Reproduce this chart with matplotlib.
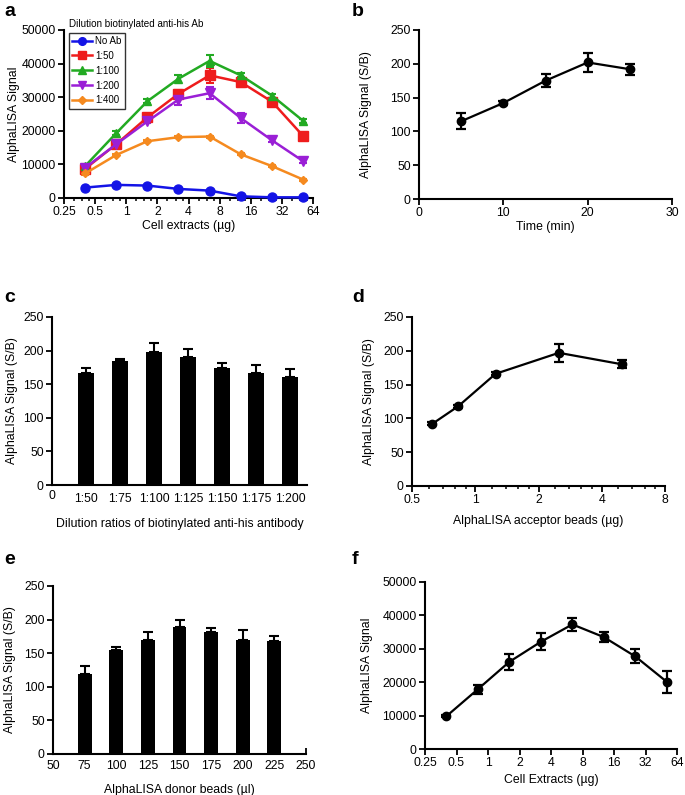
import matplotlib

matplotlib.use("Agg")
import matplotlib.pyplot as plt
from matplotlib.lines import Line2D
import numpy as np

plt.rcParams["font.family"] = ["Liberation Sans", "DejaVu Sans"]
plt.rcParams["font.size"] = 8.8

W, H = 685, 795

# ---- data -------------------------------------------------------------------
extract_ug = [0.4, 0.8, 1.6, 3.2, 6.4, 12.8, 25.6, 51.2]
log2_ticks = [0.25, 0.5, 1, 2, 4, 8, 16, 32, 64]
log2_labels = ["0.25", "0.5", "1", "2", "4", "8", "16", "32", "64"]

a_series = ["No Ab", "1:50", "1:100", "1:200", "1:400"]
a_no_ab = [3100, 3900, 3700, 2700, 2200, 500, 200, 200]
a_1_50 = [8700, 16000, 24000, 31000, 36500, 34500, 28700, 18500]
a_1_100 = [9500, 19300, 28800, 35500, 40800, 36500, 30500, 23000]
a_1_200 = [9000, 16000, 22800, 29300, 31200, 23800, 17200, 11000]
a_1_400 = [7300, 12800, 16900, 18100, 18300, 13000, 9500, 5500]
a_err_no_ab = [300, 300, 300, 300, 300, 300, 200, 200]
a_err_1_50 = [1000, 800, 800, 1200, 2200, 1600, 1000, 800]
a_err_1_100 = [500, 600, 600, 1100, 1800, 600, 600, 600]
a_err_1_200 = [500, 500, 500, 1500, 1800, 1600, 600, 600]
a_err_1_400 = [400, 300, 300, 300, 300, 300, 300, 300]

b_time = [5, 10, 15, 20, 25]
b_sb = [115, 142, 175, 202, 192]
b_err = [12, 3, 10, 14, 8]

c_labels = ["1:50", "1:75", "1:100", "1:125", "1:150", "1:175", "1:200"]
c_sb = [167, 184, 198, 190, 174, 167, 160]
c_err = [7, 4, 14, 13, 8, 12, 13]

d_beads = [0.625, 0.83, 1.25, 2.5, 5]
d_sb = [92, 118, 166, 197, 180]
d_err = [2, 2, 2, 13, 6]

e_donor = [75, 100, 125, 150, 175, 200, 225]
e_sb = [119, 155, 169, 189, 181, 170, 168]
e_err = [12, 4, 13, 11, 6, 15, 7]

f_signal = [9800, 17900, 26100, 32100, 37300, 33500, 27700, 20100]
f_err = [300, 1400, 2400, 2600, 1900, 1500, 2100, 3200]


def axes_at(left, top, right, bottom):
    return fig.add_axes([left / W, 1 - bottom / H, (right - left) / W, (bottom - top) / H])


def prism(ax):
    for s in ("top", "right"):
        ax.spines[s].set_visible(False)
    for s in ("left", "bottom"):
        ax.spines[s].set_linewidth(1.5)
    ax.tick_params(width=1.3, length=4, labelsize=8.8, pad=2)
    ax.tick_params(which="minor", width=1.1, length=2.5)


def log2_axis(ax, lo, hi, minor_steps=None):
    ax.set_xscale("log", base=2)
    ax.set_xlim(lo, hi)
    ticks = [t for t in log2_ticks if lo <= t <= hi]
    ax.set_xticks(ticks)
    ax.set_xticklabels([log2_labels[log2_ticks.index(t)] for t in ticks])
    if minor_steps:
        minors = [t * (1 + k / minor_steps) for t in ticks[:-1] for k in range(1, minor_steps)]
        ax.set_xticks(minors, minor=True)
    else:
        ax.set_xticks([], minor=True)
    ax.xaxis.set_minor_formatter(matplotlib.ticker.NullFormatter())


fig = plt.figure(figsize=(W / 100, H / 100), dpi=100)

# ---- a ------------------------------------------------------------------------
ax = axes_at(64, 30, 313, 198)
prism(ax)
a_vals = [a_no_ab, a_1_50, a_1_100, a_1_200, a_1_400]
a_errs = [a_err_no_ab, a_err_1_50, a_err_1_100, a_err_1_200, a_err_1_400]
a_cols = ["#1414e6", "#ee1c1c", "#22aa22", "#9a1fd6", "#f58a1f"]
a_marks = ["o", "s", "^", "v", "D"]
a_msize = [6.5, 6.5, 6, 6.5, 4.5]
handles = []
for name, v, e, c, m, ms in zip(a_series, a_vals, a_errs, a_cols, a_marks, a_msize):
    ax.errorbar(extract_ug, v, yerr=e, color=c, marker=m, ms=ms, lw=1.8,
                capsize=3, capthick=1.5, elinewidth=1.5, clip_on=False, zorder=3)
    handles.append(Line2D([], [], color=c, marker=m, ms=ms * 0.85, lw=1.8, label=name))
log2_axis(ax, 0.25, 64, minor_steps=4)
ax.set_ylim(0, 50000)
ax.set_yticks(range(0, 50001, 10000))
ax.set_ylabel("AlphaLISA Signal", labelpad=1)
ax.set_xlabel("Cell extracts (\u00b5g)", labelpad=1)
leg = ax.legend(handles=handles, loc="upper left", bbox_to_anchor=(0.02, 0.985), fontsize=7,
                frameon=True, fancybox=False, edgecolor="black", handlelength=2.0,
                borderpad=0.35, labelspacing=0.5, handletextpad=0.35, borderaxespad=0)
leg.get_frame().set_linewidth(1.0)
ax.text(0.02, 1.005, "Dilution biotinylated anti-his Ab", transform=ax.transAxes,
        fontsize=7.1, va="bottom", ha="left")

# ---- b ------------------------------------------------------------------------
ax = axes_at(419, 30, 672, 199)
prism(ax)
ax.errorbar(b_time, b_sb, yerr=b_err, color="black", marker="o", ms=6, lw=1.6,
            capsize=3.5, capthick=1.6, elinewidth=1.6)
ax.set_xlim(0, 30)
ax.set_xticks([0, 10, 20, 30])
ax.set_ylim(0, 250)
ax.set_yticks(range(0, 251, 50))
ax.set_ylabel("AlphaLISA Signal (S/B)", labelpad=13)
ax.set_xlabel("Time (min)", labelpad=1)

# ---- c ------------------------------------------------------------------------
ax = axes_at(52, 317, 307, 485)
prism(ax)
xc = np.arange(1, len(c_labels) + 1)
ax.bar(xc, c_sb, width=0.45, color="black", zorder=2)
ax.errorbar(xc, c_sb, yerr=[np.zeros(len(c_err)), c_err], fmt="none", ecolor="black",
            elinewidth=1.5, capsize=3.5, capthick=1.5, zorder=1)
ax.set_xlim(0, 7.5)
ax.set_xticks(np.concatenate([[0], xc]))
ax.set_xticklabels(["0"] + c_labels)
ax.tick_params(axis="x", direction="in", length=0, pad=6)
ax.get_xticklabels()[0].set_y(0.02)
ax.set_ylim(0, 250)
ax.set_yticks(range(0, 251, 50))
ax.set_ylabel("AlphaLISA Signal (S/B)")
ax.set_xlabel("Dilution ratios of biotinylated anti-his antibody", labelpad=9)

# ---- d ------------------------------------------------------------------------
ax = axes_at(412, 317, 665, 486)
prism(ax)
ax.errorbar(d_beads, d_sb, yerr=d_err, color="black", marker="o", ms=6, lw=1.6,
            capsize=3.5, capthick=1.6, elinewidth=1.6)
log2_axis(ax, 0.5, 8, minor_steps=5)
ax.set_ylim(0, 250)
ax.set_yticks(range(0, 251, 50))
ax.set_ylabel("AlphaLISA Signal (S/B)", labelpad=6)
ax.set_xlabel("AlphaLISA acceptor beads (\u00b5g)", labelpad=6)

# ---- e ------------------------------------------------------------------------
ax = axes_at(53, 586, 306, 754)
prism(ax)
ax.bar(e_donor, e_sb, width=11, color="black", zorder=2)
ax.errorbar(e_donor, e_sb, yerr=[np.zeros(len(e_err)), e_err], fmt="none", ecolor="black",
            elinewidth=1.5, capsize=3.5, capthick=1.5, zorder=1)
ax.set_xlim(50, 250)
ax.set_xticks(range(50, 251, 25))
ax.tick_params(axis="x", direction="in", pad=4)
ax.set_ylim(0, 250)
ax.set_yticks(range(0, 251, 50))
ax.set_ylabel("AlphaLISA Signal (S/B)", labelpad=6)
ax.set_xlabel("AlphaLISA donor beads (\u00b5l)", labelpad=9)

# ---- f ------------------------------------------------------------------------
ax = axes_at(425, 582, 677, 749)
prism(ax)
ax.errorbar(extract_ug, f_signal, yerr=f_err, color="black", marker="o", ms=6, lw=1.6,
            capsize=3.5, capthick=1.6, elinewidth=1.6)
log2_axis(ax, 0.25, 64)
ax.set_ylim(0, 50000)
ax.set_yticks(range(0, 50001, 10000))
ax.set_ylabel("AlphaLISA Signal", labelpad=7)
ax.set_xlabel("Cell Extracts (\u00b5g)", labelpad=3)

# ---- panel letters -------------------------------------------------------------
for letter, x, y in [("a", 4, 12), ("b", 352, 12), ("c", 4, 298),
                     ("d", 352, 298), ("e", 4, 560), ("f", 352, 560)]:
    fig.text(x / W, 1 - y / H, letter, fontsize=14, fontweight="bold", va="center", ha="left")

fig.savefig("out.png", dpi=100)
